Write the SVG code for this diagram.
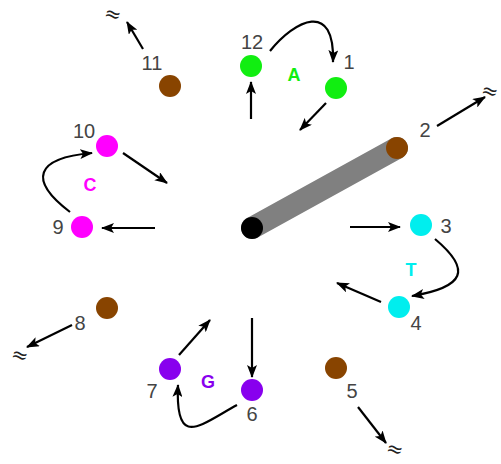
<svg xmlns="http://www.w3.org/2000/svg" width="501" height="464" viewBox="0 0 501 464">
<defs>
<marker id="ah" viewBox="0 0 13 10" refX="12" refY="5" markerWidth="13" markerHeight="10" markerUnits="userSpaceOnUse" orient="auto">
<path d="M0,0 L13,5 L0,10 L3,5 Z" fill="#000"/>
</marker>
</defs>
<style>
.lbl{font-family:"Liberation Sans",Arial,sans-serif;font-size:20px;fill:#444;text-anchor:middle;dominant-baseline:central}
.let{font-family:"Liberation Sans",Arial,sans-serif;font-size:18px;font-weight:bold;text-anchor:middle;dominant-baseline:central}
.sq{font-family:"DejaVu Sans",sans-serif;font-size:20px;fill:#222;text-anchor:middle;dominant-baseline:central}
.c path,.c line{stroke:#000;stroke-width:2.2;fill:none;marker-end:url(#ah)}
.br{fill:#884400}.gr{fill:#11ee11}.cy{fill:#00eeee}.mg{fill:#ff00ff}.pu{fill:#8800ee}
</style>
<rect width="501" height="464" fill="#fff"/>
<line x1="252" y1="228" x2="397" y2="148" stroke="#808080" stroke-width="22" stroke-linecap="round"/>
<g id="center"><circle cx="252" cy="228" r="11" fill="#000"/></g>
<g class="c" id="connectors">
<line x1="251" y1="119" x2="251" y2="82"/>
<path d="M270,51 C295,20 335,0 333,62"/>
<line x1="326" y1="103" x2="300" y2="130"/>
<line x1="437" y1="126" x2="485" y2="97"/>
<line x1="350" y1="227" x2="400" y2="227"/>
<path d="M435,239 C472,270 465,287 412,296"/>
<line x1="381" y1="302" x2="337" y2="283"/>
<line x1="358" y1="407" x2="386" y2="443"/>
<line x1="252" y1="318" x2="252" y2="377"/>
<path d="M237,405 C200,425 175,450 178,385"/>
<line x1="179" y1="355" x2="210" y2="320"/>
<line x1="72" y1="325" x2="27" y2="347"/>
<line x1="155" y1="228" x2="102" y2="228"/>
<path d="M70,212 C28,180 35,158 92,153"/>
<line x1="123" y1="153" x2="167" y2="183"/>
<line x1="143" y1="49" x2="127" y2="22"/>
</g>
<g id="n1"><circle cx="336" cy="88" r="11" class="gr"/><text class="lbl" x="349" y="62">1</text></g>
<g id="n2"><circle cx="397" cy="148" r="11" class="br"/><text class="lbl" x="425" y="130">2</text></g>
<g id="n3"><circle cx="421" cy="225" r="11" class="cy"/><text class="lbl" x="446" y="226">3</text></g>
<g id="n4"><circle cx="399" cy="307" r="11" class="cy"/><text class="lbl" x="416" y="323">4</text></g>
<g id="n5"><circle cx="336" cy="368" r="11" class="br"/><text class="lbl" x="352" y="391">5</text></g>
<g id="n6"><circle cx="252" cy="390" r="11" class="pu"/><text class="lbl" x="252" y="414">6</text></g>
<g id="n7"><circle cx="170" cy="369" r="11" class="pu"/><text class="lbl" x="152" y="391">7</text></g>
<g id="n8"><circle cx="107" cy="308" r="11" class="br"/><text class="lbl" x="80" y="323">8</text></g>
<g id="n9"><circle cx="82" cy="227" r="11" class="mg"/><text class="lbl" x="58" y="227">9</text></g>
<g id="n10"><circle cx="107" cy="146" r="11" class="mg"/><text class="lbl" x="84" y="131">10</text></g>
<g id="n11"><circle cx="170" cy="86" r="11" class="br"/><text class="lbl" x="152" y="63">11</text></g>
<g id="n12"><circle cx="251" cy="66" r="11" class="gr"/><text class="lbl" x="252" y="42">12</text></g>
<g id="letters">
<text class="let" x="294" y="75" fill="#11ee11">A</text>
<text class="let" x="411" y="270" fill="#00eeee">T</text>
<text class="let" x="208" y="382" fill="#8800ee">G</text>
<text class="let" x="90" y="185" fill="#ff00ff">C</text>
</g>
<g id="breaks">
<text class="sq" transform="translate(113,14) rotate(15)">≈</text>
<text class="sq" transform="translate(490,91) rotate(15)">≈</text>
<text class="sq" transform="translate(20,355) rotate(15)">≈</text>
<text class="sq" transform="translate(395,449) rotate(15)">≈</text>
</g>
</svg>
